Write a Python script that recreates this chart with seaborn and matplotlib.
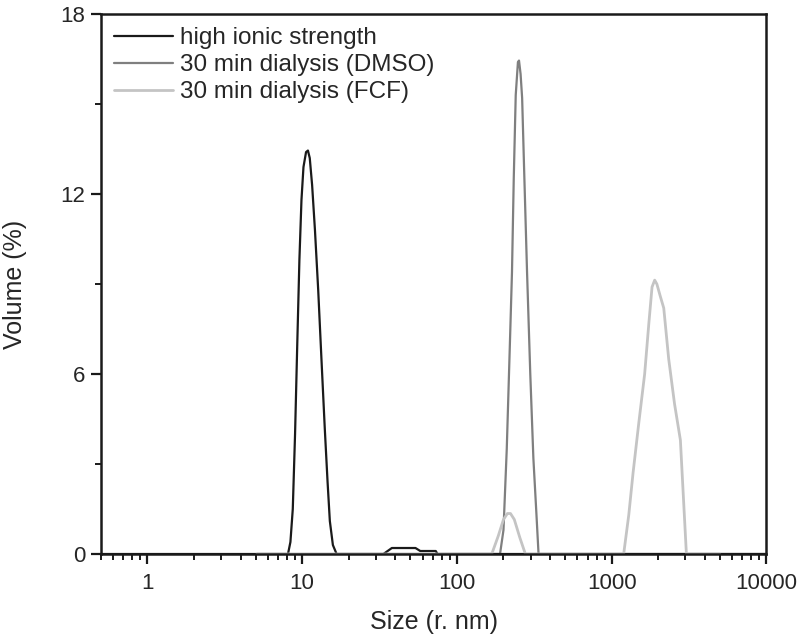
import matplotlib
matplotlib.use("Agg")
import matplotlib.pyplot as plt
import matplotlib.ticker as mticker
import numpy as np
import pandas as pd
import seaborn as sns

sns.set_style("ticks")
plt.rcParams['font.family'] = ['Liberation Sans', 'DejaVu Sans']

# size (r. nm) and volume (%)
size_high = [0.5, 5.1, 8.1, 8.4, 8.7, 9.0, 9.3, 9.6, 9.9, 10.2, 10.6, 10.9, 11.2,
             11.6, 12.1, 12.7, 13.3, 14.0, 14.6, 15.1, 15.8, 16.7,
             33.5, 38.0, 54.0, 58.0, 73.0, 75.0, 10000]
vol_high = [0.0, 0.0, 0.0, 0.4, 1.5, 4.0, 7.0, 9.8, 11.8, 12.9, 13.4, 13.45, 13.2,
            12.3, 10.8, 8.8, 6.6, 4.2, 2.4, 1.1, 0.3, 0.0,
            0.0, 0.2, 0.2, 0.1, 0.1, 0.0, 0.0]

size_dmso = [5.1, 190, 200, 210, 220, 227, 233, 240, 248, 252, 258, 264, 272,
             284, 298, 312, 326, 337, 10000]
vol_dmso = [0.0, 0.0, 0.8, 3.5, 7.0, 9.4, 12.5, 15.3, 16.4, 16.45, 16.0, 15.2, 12.8,
            9.4, 6.0, 3.2, 1.4, 0.0, 0.0]

size_fcf = [5.1, 168, 185, 200, 212, 222, 235, 255, 277,
            1196, 1290, 1375, 1500, 1634, 1740, 1824, 1897, 1960, 2060, 2171,
            2337, 2550, 2781, 3041, 5000]
vol_fcf = [0.0, 0.0, 0.6, 1.15, 1.35, 1.35, 1.15, 0.55, 0.0,
           0.0, 1.3, 2.7, 4.4, 6.0, 7.7, 8.9, 9.13, 9.0, 8.6, 8.2,
           6.5, 5.0, 3.8, 0.0, 0.0]

labels = ["high ionic strength", "30 min dialysis (DMSO)", "30 min dialysis (FCF)"]
colors = ["#1a1a1a", "#7f7f7f", "#c4c4c4"]

df_high = pd.DataFrame({"size": size_high, "vol": vol_high})
df_dmso = pd.DataFrame({"size": size_dmso, "vol": vol_dmso})
df_fcf = pd.DataFrame({"size": size_fcf, "vol": vol_fcf})

fig = plt.figure(figsize=(8, 6.39), dpi=100)
ax = fig.add_axes([0.126, 0.133, 0.832, 0.845])

# draw order matters: dmso under black baseline, fcf on top
sns.lineplot(data=df_dmso, x="size", y="vol", ax=ax, color=colors[1], lw=1.6)
sns.lineplot(data=df_high, x="size", y="vol", ax=ax, color=colors[0], lw=1.6)
sns.lineplot(data=df_fcf, x="size", y="vol", ax=ax, color=colors[2], lw=2.0)

ax.set_xscale("log")
ax.set_xlim(0.5, 10000)
ax.set_ylim(0, 18)
ax.set_xticks([1, 10, 100, 1000, 10000])
ax.xaxis.set_major_formatter(mticker.FuncFormatter(lambda v, p: "%d" % v))
ax.xaxis.set_minor_locator(mticker.LogLocator(base=10, subs=np.arange(2, 10)))
ax.xaxis.set_minor_formatter(mticker.NullFormatter())
ax.set_yticks([0, 6, 12, 18])
ax.yaxis.set_minor_locator(mticker.MultipleLocator(3))

ax.tick_params(which="major", direction="out", length=7.5, width=1.6,
               labelsize=16, color="#1a1a1a")
ax.tick_params(which="minor", direction="out", length=4, width=1.4, color="#1a1a1a")
ax.tick_params(axis="x", which="major", pad=6)
ax.tick_params(axis="y", which="major", pad=3.5)
for s in ax.spines.values():
    s.set_linewidth(1.8)
    s.set_color("#1a1a1a")

ax.set_xlabel("Size (r. nm)", fontsize=18, labelpad=12)
ax.set_ylabel("Volume (%)", fontsize=18, labelpad=24)

handles = [plt.Line2D([], [], color=c, lw=w) for c, w in zip(colors, [1.6, 1.6, 2.0])]
ax.legend(handles, labels, loc="upper left", frameon=False, fontsize=17.5,
          handlelength=2.4, handletextpad=0.3, labelspacing=0.2,
          borderaxespad=0.15, bbox_to_anchor=(0.0, 1.0))

fig.savefig("out.png", dpi=100)
